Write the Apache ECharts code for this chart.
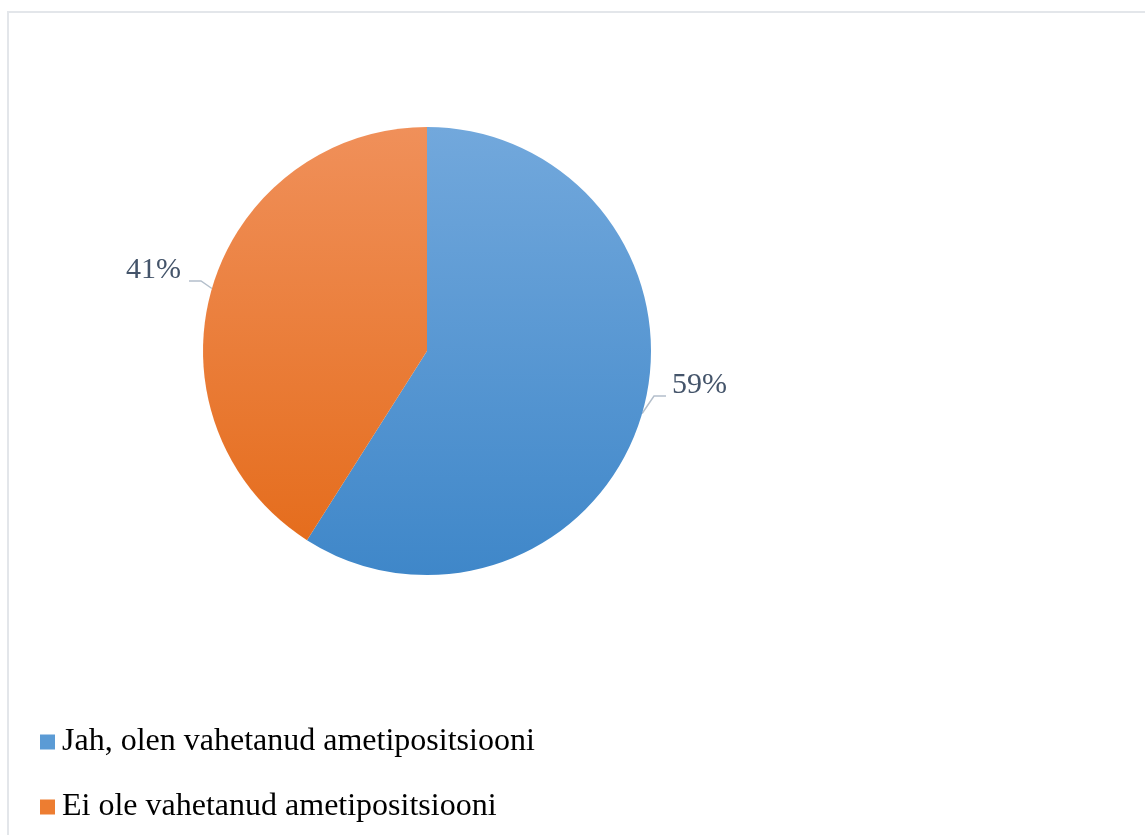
<!DOCTYPE html>
<html>
<head>
<meta charset="utf-8">
<script src="https://cdn.jsdelivr.net/npm/echarts@6/dist/echarts.min.js"></script>
<style>
html,body{margin:0;padding:0;background:#fff;}
#frame{position:absolute;left:7px;top:11px;width:1160px;height:860px;border:2px solid #e3e6ea;box-sizing:border-box;}
#chart{position:absolute;left:0;top:0;width:1145px;height:835px;}
</style>
</head>
<body>
<div id="frame"></div>
<div id="chart"></div>
<script>
const categories = ['Jah, olen vahetanud ametipositsiooni', 'Ei ole vahetanud ametipositsiooni'];
const values = [59, 41];
const topColors = ['#72a8dc', '#f0905a'];
const bottomColors = ['#3f87c9', '#e46a18'];
const legendColors = ['#5b9bd5', '#ed7d31'];

const chart = echarts.init(document.getElementById('chart'), null, {renderer: 'canvas'});
const cx = 427, cy = 351, r = 224;
const data = categories.map((name, i) => ({
  name: name,
  value: values[i],
  itemStyle: {
    color: new echarts.graphic.LinearGradient(0, cy - r, 0, cy + r, [
      {offset: 0, color: topColors[i]},
      {offset: 1, color: bottomColors[i]}
    ], true)
  }
}));

const labelPos = [
  {x: 666, y: 395, align: 'left', verticalAlign: 'middle'},
  {x: 189, y: 280, align: 'right', verticalAlign: 'middle'}
];
const labelRich = [
  {v: {padding: [0, 0, 0, 6]}, s: {height: 20, padding: [0, 0, 0, 6]}},
  {v: {padding: [0, 8, 0, 0]}, s: {height: 20, padding: [0, 8, 0, 0]}}
];

chart.setOption({
  animation: false,
  legend: {
    orient: 'vertical',
    left: 35,
    top: 721,
    itemWidth: 15,
    itemHeight: 15,
    itemGap: 33,
    icon: 'rect',
    textStyle: {fontFamily: 'Liberation Serif', fontSize: 32, color: '#000', padding: [0, 0, 0, 2]},
    data: categories.map((n, i) => ({name: n, itemStyle: {color: legendColors[i]}}))
  },
  series: [{
    type: 'pie',
    center: [cx, cy],
    radius: [0, r],
    startAngle: 90,
    clockwise: true,
    data: data.map((d, i) => Object.assign({}, d, {
      label: {
        rich: {
          v: Object.assign({fontFamily: 'Liberation Serif', fontSize: 30, color: '#44546a', lineHeight: 34}, labelRich[i].v),
          s: Object.assign({fontSize: 10, lineHeight: 20}, labelRich[i].s)
        }
      }
    })),
    label: {
      show: true,
      position: 'outside',
      formatter: p => '{v|' + Math.round(p.percent) + '%}\n{s| }',
      fontFamily: 'Liberation Serif',
      fontSize: 30,
      color: '#44546a',
      distanceToLabelLine: 0
    },
    labelLine: {
      show: true,
      length: 15,
      length2: 12,
      lineStyle: {color: '#b4bfcb', width: 1.5}
    },
    labelLayout: function (p) {
      return labelPos[p.dataIndex];
    },
    emphasis: {disabled: true}
  }]
});
</script>
</body>
</html>
